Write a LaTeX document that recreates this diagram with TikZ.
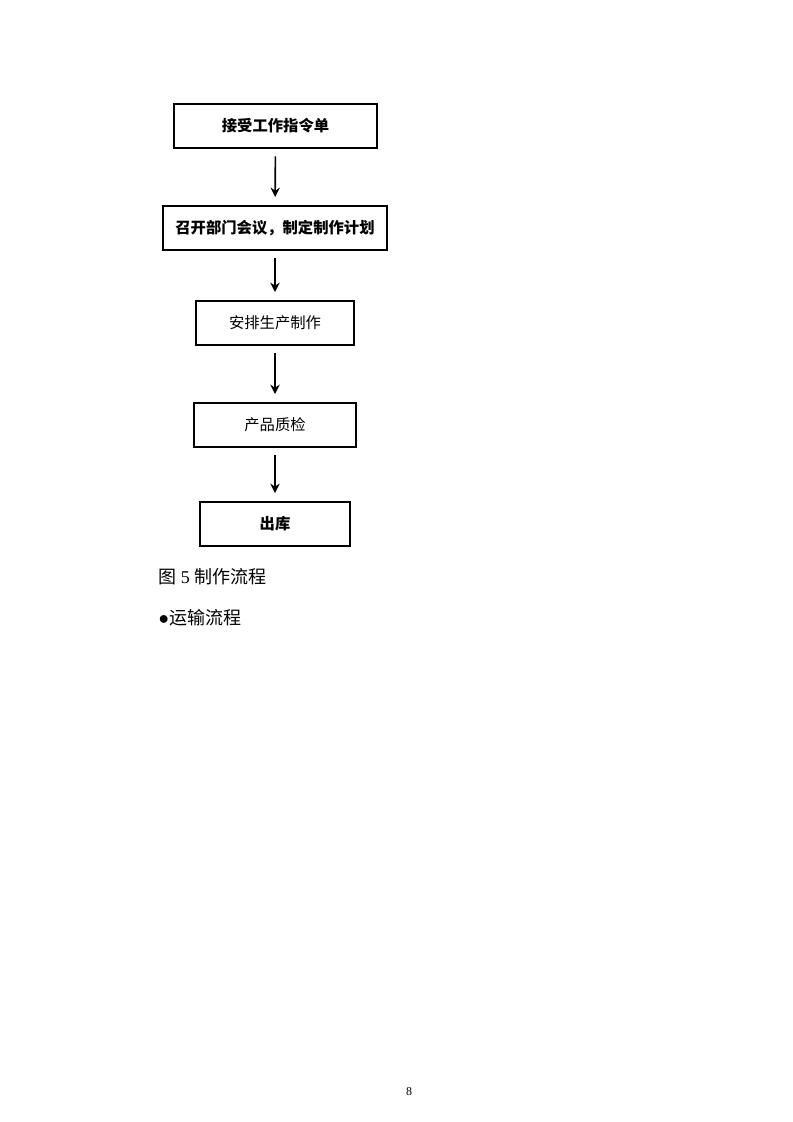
\documentclass[tikz,border=0pt]{standalone}
\usepackage{fontspec}
\setmainfont{Liberation Serif}
\newfontfamily\cjk{Noto Sans CJK SC}
\usetikzlibrary{arrows.meta}

\begin{document}
\begin{tikzpicture}[x=0.75pt, y=-0.75pt]
    \useasboundingbox[fill=white] (0,0) rectangle (793,1122);

    \tikzstyle{every node}=[rectangle, draw=black, line width=1.5pt, minimum height=33pt, inner sep=2pt, font=\cjk\fontsize{11.5pt}{13pt}\selectfont, text=black]
    \tikzstyle{edge}=[black, line width=1.2pt, -{Stealth[length=7pt, width=7pt]}, shorten <=5.5pt, shorten >=6pt]

    \node[minimum width=152pt, font=\cjk\bfseries\fontsize{11.5pt}{13pt}\selectfont] (order) at (275.5,126) {接受工作指令单};
    \node[minimum width=168pt, font=\cjk\bfseries\fontsize{11.5pt}{13pt}\selectfont] (plan) at (275,228) {召开部门会议，制定制作计划};
    \node[minimum width=118.5pt] (make) at (275,323) {安排生产制作};
    \node[minimum width=121.5pt] (check) at (275,425) {产品质检};
    \node[minimum width=112.5pt, font=\cjk\bfseries\fontsize{11.5pt}{13pt}\selectfont] (store) at (275,524) {出库};

    \draw[edge] (order) -- (plan);
    \draw[edge] (plan) -- (make);
    \draw[edge] (make) -- (check);
    \draw[edge] (check) -- (store);

    \tikzstyle{every node}=[inner sep=0pt, anchor=west, font=\fontsize{13.5pt}{16pt}\selectfont, text=black]
    \node (caption) at (158,577) {{\cjk 图} 5 {\cjk 制作流程}};
    \node (transport) at (158,618) {●{\cjk 运输流程}};

    \tikzstyle{every node}=[inner sep=0pt, font=\fontsize{9pt}{11pt}\selectfont, text=black]
    \node (pageno) at (409,1092) {8};
\end{tikzpicture}
\end{document}
